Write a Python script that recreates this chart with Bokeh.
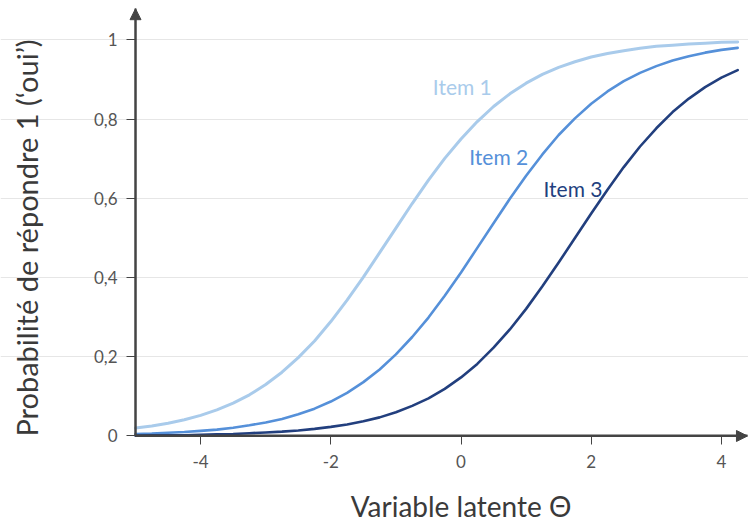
from bokeh.plotting import figure
from bokeh.models import FixedTicker, Arrow, NormalHead, Label, Range1d
from bokeh.embed import file_html
from bokeh.resources import INLINE
import math

# ---- data ----
theta = [-5.0, -4.75, -4.5, -4.25, -4.0, -3.75, -3.5, -3.25, -3.0, -2.75,
         -2.5, -2.25, -2.0, -1.75, -1.5, -1.25, -1.0, -0.75, -0.5, -0.25,
         0.0, 0.25, 0.5, 0.75, 1.0, 1.25, 1.5, 1.75, 2.0, 2.25,
         2.5, 2.75, 3.0, 3.25, 3.5, 3.75, 4.0, 4.25]

item1 = [0.020, 0.025, 0.032, 0.041, 0.052, 0.066, 0.083, 0.104, 0.130, 0.161,
         0.198, 0.240, 0.289, 0.343, 0.401, 0.463, 0.525, 0.587, 0.646, 0.701,
         0.750, 0.794, 0.832, 0.864, 0.891, 0.913, 0.931, 0.945, 0.957, 0.966,
         0.973, 0.979, 0.984, 0.987, 0.990, 0.992, 0.994, 0.995]

item2 = [0.005, 0.006, 0.008, 0.010, 0.013, 0.016, 0.021, 0.027, 0.034, 0.043,
         0.055, 0.069, 0.087, 0.109, 0.136, 0.168, 0.206, 0.250, 0.299, 0.354,
         0.413, 0.475, 0.537, 0.599, 0.657, 0.711, 0.760, 0.802, 0.839, 0.870,
         0.896, 0.917, 0.934, 0.948, 0.959, 0.968, 0.975, 0.980]

item3 = [0.001, 0.002, 0.002, 0.002, 0.003, 0.004, 0.005, 0.007, 0.009, 0.011,
         0.014, 0.018, 0.023, 0.029, 0.037, 0.047, 0.060, 0.076, 0.095, 0.119,
         0.148, 0.182, 0.223, 0.269, 0.321, 0.378, 0.438, 0.500, 0.562, 0.622,
         0.679, 0.731, 0.777, 0.818, 0.852, 0.881, 0.905, 0.924]

series_names = ["Item 1", "Item 2", "Item 3"]
x_ticks = [-4, -2, 0, 2, 4]
x_tick_labels = ["-4", "-2", "0", "2", "4"]
y_ticks = [0, 0.2, 0.4, 0.6, 0.8, 1.0]
y_tick_labels = ["0", "0,2", "0,4", "0,6", "0,8", "1"]
x_label = "Variable latente Θ"
y_label = "Probabilité de répondre 1 (‘oui’)"

# ---- styling / layout ----
colors = ["#a9cbeb", "#5590d9", "#223f7e"]
widths = [3, 2.6, 2.6]
label_pos = [(0.02, 0.882), (0.58, 0.705), (1.72, 0.626)]
x_title_pos = (0.0, -0.176)
y_title_pos = (-6.682, 0.5)
FONT = "Lato"
AXIS_COLOR = "#444444"
TITLE_COLOR = "#3a3a3a"

AX_X = -5.0                      # where the vertical axis stands
VIEW_X = (-7.074, 4.416)         # visible window (whole canvas)
VIEW_Y = (-0.2235, 1.0997)
X_ARROW_END = 4.4
Y_ARROW_END = 1.079

p = figure(width=748, height=524,
           x_range=Range1d(*VIEW_X), y_range=Range1d(*VIEW_Y),
           output_backend="svg", toolbar_location=None,
           min_border_left=0, min_border_right=0,
           min_border_top=0, min_border_bottom=0)
p.outline_line_color = None
p.background_fill_color = "white"
p.border_fill_color = "white"

p.xgrid.visible = False
p.ygrid.ticker = FixedTicker(ticks=y_ticks[1:])
p.ygrid.bounds = (AX_X, theta[-1])
p.ygrid.grid_line_color = "#e6e6e6"
p.ygrid.grid_line_width = 1

for ax in (p.xaxis[0], p.yaxis[0]):
    ax.axis_line_color = AXIS_COLOR
    ax.axis_line_width = 2
    ax.major_tick_line_color = AXIS_COLOR
    ax.major_tick_line_width = 1
    ax.major_tick_out = 9
    ax.major_tick_in = 0
    ax.minor_tick_line_color = None
    ax.major_label_text_font = FONT
    ax.major_label_text_font_size = "17px"
    ax.major_label_text_color = "#555555"

p.xaxis.fixed_location = 0
p.xaxis.bounds = (AX_X, X_ARROW_END)
p.xaxis.ticker = FixedTicker(ticks=x_ticks)
p.xaxis.major_label_overrides = {t: s for t, s in zip(x_ticks, x_tick_labels)}
p.xaxis.major_label_standoff = 10

p.yaxis.fixed_location = AX_X
p.yaxis.bounds = (0, Y_ARROW_END)
p.yaxis.ticker = FixedTicker(ticks=y_ticks)
p.yaxis.major_label_overrides = {t: s for t, s in zip(y_ticks, y_tick_labels)}
p.yaxis.major_label_standoff = 9

data = [item1, item2, item3]
for vals, c, w in zip(data, colors, widths):
    p.line(theta, vals, line_color=c, line_width=w, line_join="round", line_cap="round")

for name, (lx, ly), c in zip(series_names, label_pos, colors):
    p.add_layout(Label(x=lx, y=ly, text=name, text_font=FONT, text_font_size="21px",
                       text_color=c, text_align="center", text_baseline="middle"))

# axis arrow heads
p.add_layout(Arrow(end=NormalHead(size=11, fill_color=AXIS_COLOR, line_color=AXIS_COLOR),
                   x_start=AX_X, y_start=0, x_end=AX_X, y_end=Y_ARROW_END,
                   line_color=AXIS_COLOR, line_width=2))
p.add_layout(Arrow(end=NormalHead(size=11, fill_color=AXIS_COLOR, line_color=AXIS_COLOR),
                   x_start=AX_X, y_start=0, x_end=X_ARROW_END, y_end=0,
                   line_color=AXIS_COLOR, line_width=2))

# axis titles
p.add_layout(Label(x=x_title_pos[0], y=x_title_pos[1], text=x_label,
                   text_font=FONT, text_font_size="28px", text_color=TITLE_COLOR,
                   text_align="center", text_baseline="middle"))
p.add_layout(Label(x=y_title_pos[0], y=y_title_pos[1], text=y_label, angle=math.pi / 2,
                   text_font=FONT, text_font_size="29px", text_color=TITLE_COLOR,
                   text_align="center", text_baseline="middle"))

open("out.html", "w").write(file_html(p, INLINE))
